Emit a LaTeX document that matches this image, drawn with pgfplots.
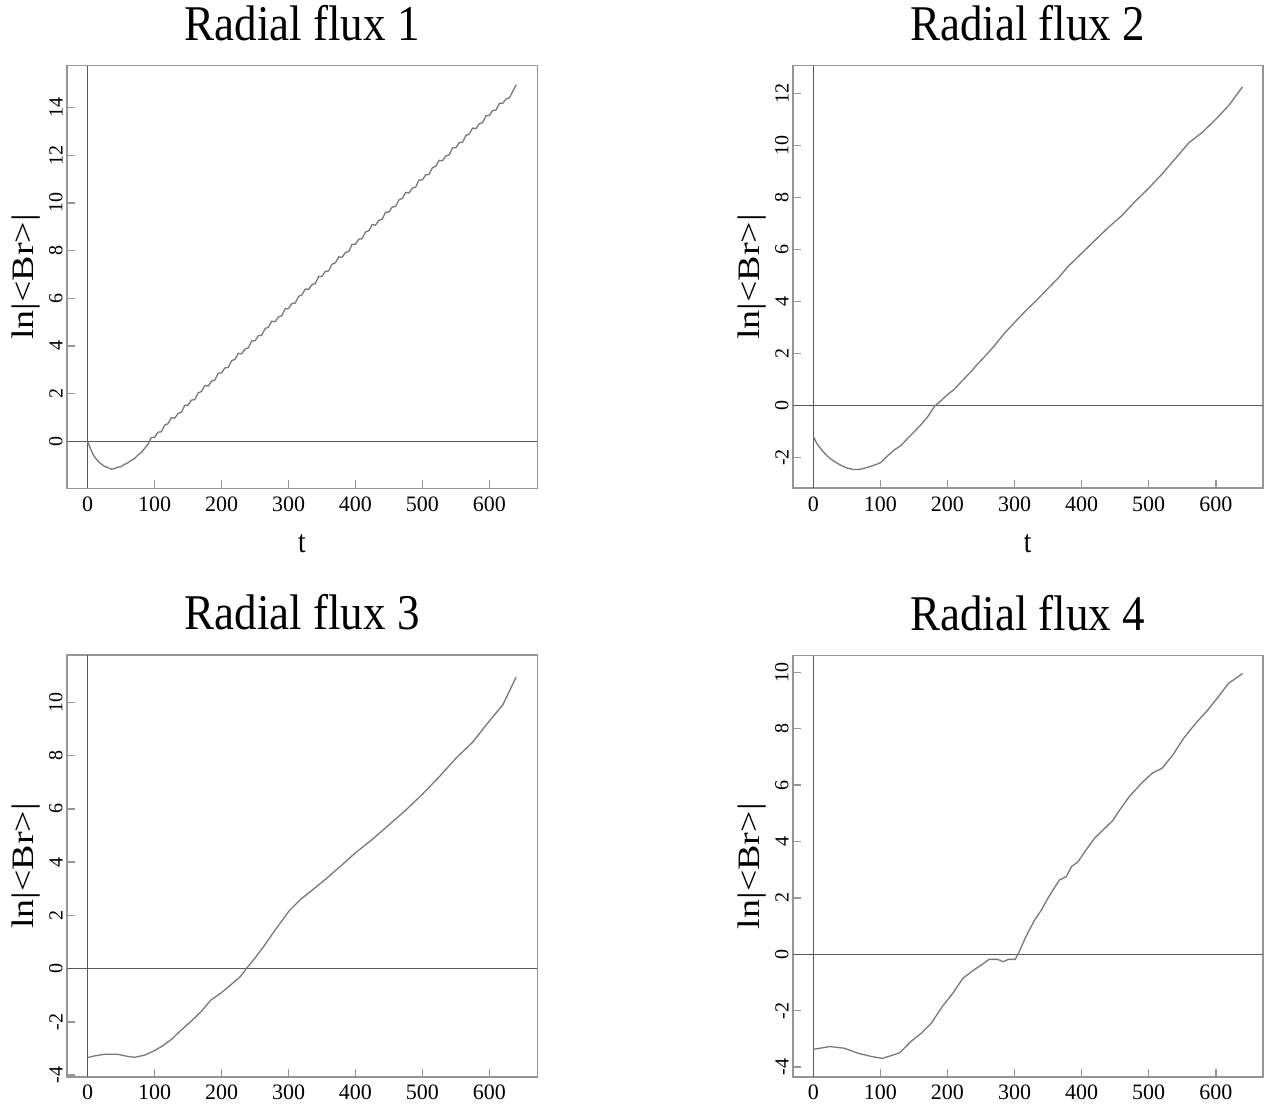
\documentclass[border=0pt]{standalone}
\usepackage{fontspec}
\setmainfont{Liberation Serif}
\usepackage{pgfplots}
\pgfplotsset{compat=1.18}

\definecolor{framegray}{RGB}{150,150,150}
\definecolor{zerogray}{RGB}{90,90,90}
\definecolor{curvegray}{RGB}{120,120,120}

\pgfplotsset{
  radax/.style={
    scale only axis,
    anchor=south west,
    axis line style={framegray, line width=1.6pt},
    tick style={framegray, line width=1.5pt},
    tick align=inside,
    xtick pos=bottom,
    ytick pos=left,
    major tick length=8pt,
    xtick={0,100,...,600},
    /pgf/number format/assume math mode=true,
    xticklabel style={font=\fontsize{22}{24}\selectfont, anchor=north, inner sep=0pt, yshift=-8pt},
    yticklabel style={font=\fontsize{20}{22}\selectfont, rotate=90, anchor=south, inner sep=4pt},
    title style={at={(0.5,1)}, anchor=base, yshift=19pt, inner sep=0pt},
    xlabel style={at={(axis description cs:0.5,0)}, anchor=center, yshift=-55pt},
    ylabel style={at={(axis description cs:0,0.5)}, anchor=center, yshift=41pt},
    ylabel={\scalebox{1}[0.82]{\fontsize{38}{40}\selectfont ln|<Br>|}},
    clip=true,
  },
  curve/.style={curvegray, line width=1.3pt, mark=none},
  zl/.style={zerogray, line width=1.3pt, mark=none},
}
\newcommand{\ttl}[1]{\scalebox{0.9}[1]{\fontsize{50}{56}\selectfont #1}}
\newcommand{\xl}{\scalebox{0.85}[1]{\fontsize{32}{34}\selectfont t}}

\begin{document}
\begin{tikzpicture}
\path[use as bounding box] (0,0) rectangle (1265pt,1109pt);

% ---------- Plot 1 ----------
\begin{axis}[radax, at={(66.7pt,620.5pt)}, width=470.6pt, height=422.8pt,
  xmin=-31.4, xmax=671.7, ymin=-1.98, ymax=15.76,
  ytick={0,2,...,14}, title={\ttl{Radial flux 1}}, xlabel={\xl}]
\addplot[zl] coordinates {(-31.4,0) (671.7,0)};
\addplot[zl] coordinates {(0,-1.98) (0,15.76)};
\addplot[curve] table {
0 0.00
4 -0.30
8 -0.55
12 -0.72
16 -0.85
20 -0.95
25 -1.05
30 -1.10
35 -1.17
40 -1.15
45 -1.08
50 -1.06
55 -0.97
60 -0.90
65 -0.80
70 -0.72
75 -0.58
80 -0.47
85 -0.30
90 -0.13
95 0.16
100 0.17
105 0.38
110 0.40
115 0.68
120 0.74
125 0.99
130 0.97
135 1.17
140 1.22
145 1.51
150 1.52
155 1.73
160 1.75
165 2.03
170 2.09
175 2.34
180 2.32
185 2.52
190 2.57
195 2.86
200 2.87
205 3.08
210 3.10
215 3.38
220 3.44
225 3.69
230 3.67
235 3.87
240 3.92
245 4.21
250 4.22
255 4.43
260 4.45
265 4.73
270 4.79
275 5.04
280 5.02
285 5.22
290 5.27
295 5.56
300 5.57
305 5.78
310 5.80
315 6.08
320 6.14
325 6.39
330 6.37
335 6.57
340 6.62
345 6.91
350 6.92
355 7.13
360 7.15
365 7.43
370 7.49
375 7.74
380 7.72
385 7.92
390 7.97
395 8.26
400 8.27
405 8.48
410 8.50
415 8.78
420 8.84
425 9.09
430 9.07
435 9.27
440 9.32
445 9.61
450 9.62
455 9.83
460 9.85
465 10.13
470 10.19
475 10.44
480 10.42
485 10.62
490 10.67
495 10.96
500 10.97
505 11.18
510 11.20
515 11.48
520 11.54
525 11.79
530 11.77
535 11.97
540 12.02
545 12.31
550 12.32
555 12.53
560 12.55
565 12.83
570 12.89
575 13.14
580 13.12
585 13.32
590 13.37
595 13.66
600 13.67
605 13.88
610 13.90
615 14.18
620 14.18
625 14.36
630 14.41
635 14.68
640 14.95
};
\end{axis}

% ---------- Plot 2 ----------
\begin{axis}[radax, at={(792.7pt,620.7pt)}, width=470pt, height=422.6pt,
  xmin=-30.7, xmax=670, ymin=-3.18, ymax=13.06,
  ytick={-2,0,...,12}, title={\ttl{Radial flux 2}}, xlabel={\xl}]
\addplot[zl] coordinates {(-30.7,0) (670,0)};
\addplot[zl] coordinates {(0,-3.18) (0,13.06)};
\addplot[curve] table {
0 -1.19
5 -1.45
10 -1.62
15 -1.78
20 -1.92
25 -2.03
30 -2.13
40 -2.28
50 -2.40
60 -2.46
70 -2.45
80 -2.38
90 -2.30
100 -2.20
105 -2.08
110 -1.95
120 -1.72
130 -1.55
140 -1.28
150 -1.02
160 -0.75
170 -0.45
181 -0.02
190 0.18
200 0.42
210 0.62
223 0.98
235 1.30
245 1.60
258 1.95
270 2.30
285 2.78
301 3.22
317 3.65
333 4.05
350 4.50
365 4.90
380 5.35
400 5.85
420 6.35
440 6.85
460 7.30
480 7.85
500 8.35
520 8.90
540 9.50
560 10.10
580 10.50
600 11.00
620 11.55
640 12.25
};
\end{axis}

% ---------- Plot 3 ----------
\begin{axis}[radax, at={(66.7pt,32.3pt)}, width=470.6pt, height=421.7pt,
  xmin=-31.4, xmax=671.7, ymin=-4.06, ymax=11.78,
  ytick={-4,-2,...,10}, title={\ttl{Radial flux 3}}]
\addplot[zl] coordinates {(-31.4,0) (671.7,0)};
\addplot[zl] coordinates {(0,-4.06) (0,11.78)};
\addplot[curve] table {
0 -3.34
10 -3.28
24 -3.22
45 -3.22
60 -3.30
70 -3.33
85 -3.25
99 -3.09
112 -2.90
125 -2.66
140 -2.30
157 -1.92
170 -1.60
184 -1.18
200 -0.90
216 -0.56
228 -0.30
237 0.00
250 0.40
264 0.87
280 1.45
301 2.17
318 2.60
333 2.90
355 3.35
380 3.90
400 4.35
425 4.85
450 5.40
475 5.95
500 6.55
525 7.20
550 7.90
575 8.50
600 9.30
620 9.90
640 10.95
};
\end{axis}

% ---------- Plot 4 ----------
\begin{axis}[radax, at={(792.7pt,32.3pt)}, width=470pt, height=421pt,
  xmin=-30.7, xmax=670, ymin=-4.34, ymax=10.59,
  ytick={-4,-2,...,10}, title={\ttl{Radial flux 4}}]
\addplot[zl] coordinates {(-30.7,0) (670,0)};
\addplot[zl] coordinates {(0,-4.34) (0,10.59)};
\addplot[curve] table {
0 -3.37
25 -3.27
46 -3.33
67 -3.51
88 -3.63
103 -3.69
119 -3.57
129 -3.49
145 -3.10
161 -2.80
176 -2.44
192 -1.86
208 -1.38
223 -0.85
239 -0.56
254 -0.32
262 -0.18
275 -0.18
283 -0.26
291 -0.18
301 -0.18
307 0.09
317 0.63
330 1.22
340 1.57
351 2.04
367 2.64
377 2.75
385 3.11
395 3.29
403 3.58
419 4.11
432 4.41
447 4.76
455 5.06
471 5.59
489 6.06
505 6.42
520 6.60
536 7.07
552 7.66
570 8.19
588 8.66
604 9.14
619 9.61
630 9.79
640 9.96
};
\end{axis}
\end{tikzpicture}
\end{document}
